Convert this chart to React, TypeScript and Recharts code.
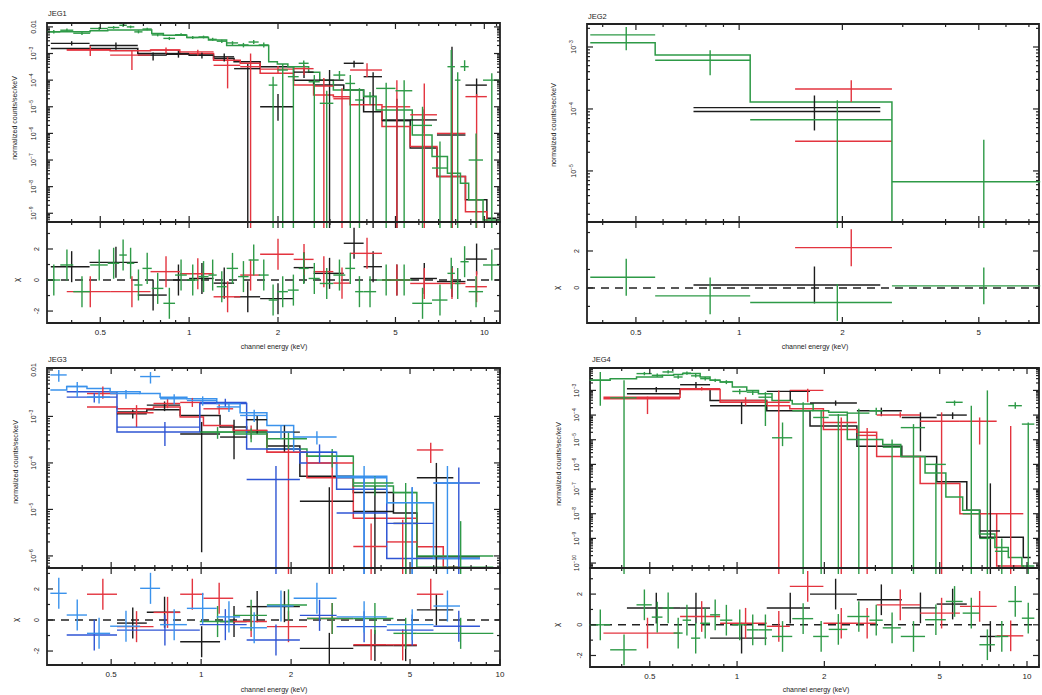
import React from 'react';
import {
  ComposedChart,
  Line,
  Scatter,
  ErrorBar,
  XAxis,
  YAxis,
  ReferenceLine,
  ReferenceArea,
} from 'recharts';

// one spectral bin: [E low, E high, rate, rate low, rate high, model, chi]
// rate low of 0 means the error bar runs down to zero; rate null = model only
type Bin = [number, number, number | null, number, number, number, number];

const JEG1_BLACK: Bin[] = [
  [0.34, 0.46, 2.4e-3, 2.0e-3, 2.9e-3, 1.55e-3, 0.86],
  [0.46, 0.67, 2.0e-3, 1.4e-3, 2.6e-3, 1.55e-3, 1.14],
  [0.67, 0.84, 8.7e-4, 5.5e-4, 1.1e-3, 1.0e-3, -0.97],
  [0.84, 1.0, 1.0e-3, 7.0e-4, 1.3e-3, 9.3e-4, 0.0],
  [1.0, 1.21, 8.7e-4, 6.5e-4, 1.1e-3, 8.7e-4, 0.1],
  [1.21, 1.42, 7.5e-4, 5.0e-4, 1.0e-3, 6.5e-4, -0.2],
  [1.42, 1.74, 2.7e-4, 0, 4.0e-4, 4.9e-4, -1.08],
  [1.74, 2.26, 1.0e-5, 3.0e-6, 3.0e-5, 3.2e-4, -1.2],
  [2.26, 2.64, 2.0e-4, 1.2e-4, 2.6e-4, 1.0e-4, 0.8],
  [2.64, 3.34, 1.0e-4, 0, 2.4e-4, 6.5e-5, 0.43],
  [3.34, 3.9, 4.3e-4, 3.0e-4, 5.3e-4, 4.3e-5, 2.37],
  [3.9, 4.5, 1.35e-4, 0, 2.0e-4, 6.5e-6, 0.86],
  [4.5, 5.61, 3.0e-6, 0, 2.0e-5, 3.2e-6, 0.0],
  [5.61, 6.91, 3.2e-6, 1.0e-6, 8.0e-6, 2.8e-7, 0.1],
  [6.91, 8.63, 8.7e-7, 0, 1.8e-3, 2.4e-8, -0.1],
  [8.63, 10.2, 6.5e-5, 2.4e-5, 1.15e-4, 3.2e-9, 1.35],
  [10.2, 11.0, null, 0, 0, 6.5e-10, 0],
];

const JEG1_RED: Bin[] = [
  [0.385, 0.54, 1.35e-3, 8.0e-4, 1.9e-3, 1.4e-3, -0.75],
  [0.54, 0.74, 8.7e-4, 2.4e-4, 1.35e-3, 1.26e-3, -0.75],
  [0.74, 0.93, 1.35e-3, 1.0e-3, 1.7e-3, 1.35e-3, 0.54],
  [0.93, 1.21, 1.15e-3, 8.5e-4, 1.4e-3, 1.0e-3, 0.4],
  [1.21, 1.49, 3.6e-4, 4.9e-5, 7.5e-4, 5.6e-4, -1.08],
  [1.49, 1.74, 3.2e-4, 0, 1.0e-3, 4.3e-4, 0.32],
  [1.74, 2.26, 2.6e-4, 1.8e-4, 3.4e-4, 1.8e-4, 1.66],
  [2.26, 2.64, 2.7e-4, 1.55e-4, 3.6e-4, 6.5e-5, 1.33],
  [2.64, 3.08, 6.0e-5, 0, 1.2e-4, 2.75e-5, 0.54],
  [3.08, 3.51, 2.0e-5, 0, 5.0e-5, 2.4e-5, -0.2],
  [3.51, 4.5, 2.4e-4, 1.3e-4, 4.3e-4, 1.2e-5, 1.72],
  [4.5, 5.61, 1.0e-5, 0, 1.0e-4, 1.8e-6, 0.0],
  [5.61, 6.91, 5.0e-6, 0, 7.5e-5, 3.2e-7, -0.22],
  [6.91, 8.63, 1.0e-6, 0, 4.3e-5, 2.4e-8, -0.22],
  [8.63, 10.2, 2.4e-5, 0, 3.0e-5, 1.15e-9, -0.43],
  [10.2, 11.0, null, 0, 0, 4.7e-10, 0],
];

const JEG1_GREEN: Bin[] = [
  [0.33, 0.366, 6.5e-3, 5.6e-3, 7.6e-3, 6.5e-3, 0.0],
  [0.366, 0.405, 7.5e-3, 6.5e-3, 8.7e-3, 6.5e-3, 0.97],
  [0.405, 0.462, 5.8e-3, 5.0e-3, 6.7e-3, 6.5e-3, -0.75],
  [0.462, 0.53, 8.7e-3, 7.7e-3, 9.8e-3, 7.1e-3, 0.97],
  [0.53, 0.58, 9.5e-3, 8.5e-3, 1.07e-2, 7.6e-3, 1.08],
  [0.58, 0.615, 1.15e-2, 1.0e-2, 1.3e-2, 7.6e-3, 1.61],
  [0.615, 0.652, 1.0e-2, 8.9e-3, 1.12e-2, 7.6e-3, 1.08],
  [0.652, 0.695, 6.5e-3, 5.7e-3, 7.4e-3, 7.6e-3, -0.32],
  [0.695, 0.747, 8.3e-3, 7.4e-3, 9.3e-3, 7.6e-3, 0.75],
  [0.747, 0.818, 5.0e-3, 4.4e-3, 5.7e-3, 5.6e-3, -0.54],
  [0.818, 0.896, 3.7e-3, 3.2e-3, 4.2e-3, 4.9e-3, -1.5],
  [0.896, 0.982, 5.1e-3, 4.5e-3, 5.8e-3, 4.9e-3, 0.32],
  [0.982, 1.075, 4.0e-3, 3.5e-3, 4.5e-3, 4.0e-3, 0.0],
  [1.075, 1.163, 4.2e-3, 3.7e-3, 4.7e-3, 4.0e-3, 0.22],
  [1.163, 1.24, 3.4e-3, 3.0e-3, 3.9e-3, 3.2e-3, 0.32],
  [1.24, 1.34, 2.9e-3, 2.5e-3, 3.3e-3, 3.2e-3, -0.43],
  [1.34, 1.465, 2.5e-3, 2.1e-3, 2.9e-3, 2.0e-3, 0.75],
  [1.465, 1.59, 2.1e-3, 1.7e-3, 2.5e-3, 2.0e-3, 0.22],
  [1.59, 1.72, 2.7e-3, 2.3e-3, 3.2e-3, 2.0e-3, 1.29],
  [1.72, 1.86, 2.1e-3, 1.7e-3, 2.6e-3, 2.0e-3, 0.32],
  [1.86, 1.99, 6.5e-5, 0, 1.35e-4, 4.9e-4, -1.29],
  [1.99, 2.16, 2.4e-4, 0, 4.0e-4, 4.0e-4, -0.75],
  [2.16, 2.35, 1.35e-4, 0, 3.2e-4, 3.2e-4, -0.65],
  [2.35, 2.54, 4.3e-4, 3.2e-4, 5.5e-4, 3.2e-4, 0.75],
  [2.54, 2.77, 8.7e-5, 0, 1.55e-4, 2.0e-4, 0.1],
  [2.77, 3.08, 1.35e-5, 0, 4.0e-5, 1.0e-4, -0.22],
  [3.08, 3.38, 1.55e-4, 1.0e-4, 2.2e-4, 4.3e-5, 0.32],
  [3.38, 3.65, 7.5e-5, 0, 1.55e-4, 4.3e-5, 0.75],
  [3.65, 3.9, 1.8e-5, 0, 5.0e-5, 4.3e-5, -0.75],
  [3.9, 4.3, 2.4e-5, 1.2e-5, 3.6e-5, 2.5e-5, -0.75],
  [4.3, 5.0, 4.9e-5, 0, 8.0e-5, 7.6e-6, 0.0],
  [5.0, 5.7, 4.0e-5, 0, 1.0e-4, 7.6e-6, 0.0],
  [5.7, 6.65, 2.0e-6, 0, 1.0e-5, 8.7e-7, -1.5],
  [6.65, 7.5, 5.0e-8, 0, 5.0e-7, 1.35e-7, -1.29],
  [7.5, 7.95, 3.2e-4, 0, 1.35e-3, 3.2e-8, 0.43],
  [7.95, 8.3, 1.0e-4, 0, 2.0e-4, 3.2e-8, -0.22],
  [8.3, 8.85, 3.2e-4, 2.2e-4, 5.6e-4, 1.35e-8, 1.18],
  [8.85, 9.9, 1.0e-7, 0, 1.0e-6, 3.2e-9, -0.75],
  [9.9, 11.3, 1.0e-4, 0, 1.8e-4, 5.6e-10, 0.97],
];

const JEG2_BLACK: Bin[] = [[0.736, 2.58, 1.05e-4, 4.5e-5, 1.65e-4, 9.1e-5, 0.16]];

const JEG2_RED: Bin[] = [[1.456, 2.79, 2.1e-4, 1.29e-4, 2.9e-4, 3.0e-5, 2.18]];

const JEG2_GREEN: Bin[] = [
  [0.368, 0.569, 1.57e-3, 8.9e-4, 2.1e-3, 1.17e-3, 0.58],
  [0.569, 1.077, 6.1e-4, 3.5e-4, 8.9e-4, 7.4e-4, -0.43],
  [1.077, 2.79, 6.7e-5, 0, 1.38e-4, 1.29e-4, -0.79],
  [2.79, 7.55, 6.7e-6, 0, 3.2e-5, 1.48e-6, 0.11],
];

const JEG3_BLACK: Bin[] = [
  [0.523, 0.658, 1.14e-3, 9.0e-4, 1.4e-3, 1.24e-3, -0.2],
  [0.658, 0.851, 1.75e-3, 1.3e-3, 2.1e-3, 1.4e-3, 0.5],
  [0.851, 1.157, 4.2e-4, 1.2e-6, 7.6e-4, 1.05e-3, -1.4],
  [1.157, 1.42, 3.6e-4, 1.2e-4, 8.5e-4, 5.9e-4, -0.1],
  [1.42, 1.66, 8.5e-4, 4.2e-4, 1.05e-3, 4.6e-4, 0.86],
  [1.66, 2.14, 4.6e-4, 1.7e-4, 6.4e-4, 2.3e-4, 0.86],
  [2.14, 3.23, 1.5e-5, 0, 3.0e-5, 5.2e-5, -1.83],
  [3.23, 4.4, 9.0e-6, 0, 3.2e-5, 2.3e-5, -1.65],
  [4.4, 5.27, 5.0e-6, 0, 1.4e-5, 8.4e-6, -1.65],
  [5.27, 6.98, 4.8e-5, 0, 1.0e-4, 9.6e-7, 0.65],
  [6.98, 8.57, null, 0, 0, 9.6e-7, 0],
];

const JEG3_RED: Bin[] = [
  [0.415, 0.523, 3.1e-3, 2.4e-3, 4.4e-3, 1.6e-3, 1.66],
  [0.523, 0.693, 1.2e-3, 5.9e-4, 1.75e-3, 1.46e-3, -0.43],
  [0.693, 0.851, 1.9e-3, 1.5e-3, 2.4e-3, 1.6e-3, 0.49],
  [0.851, 1.018, 2.0e-3, 1.6e-3, 2.5e-3, 9.7e-4, 1.66],
  [1.018, 1.28, 1.46e-3, 1.1e-3, 1.8e-3, 6.4e-4, 1.4],
  [1.28, 1.66, 5.0e-4, 3.3e-4, 6.4e-4, 5.0e-4, -0.1],
  [1.66, 2.26, 1.7e-4, 0, 2.3e-4, 1.7e-4, -0.43],
  [2.26, 3.23, 1.0e-4, 0, 1.7e-4, 4.8e-5, 0.1],
  [3.23, 4.18, 1.6e-6, 0, 5.0e-6, 6.5e-6, -1.6],
  [4.18, 5.27, 2.0e-6, 0, 6.0e-6, 6.5e-6, -1.6],
  [5.27, 6.46, 1.9e-4, 1.0e-4, 2.7e-4, 1.58e-6, 1.66],
  [6.46, 7.35, null, 0, 0, 5.7e-7, 0],
];

const JEG3_GREEN: Bin[] = [
  [0.99, 1.28, 4.6e-4, 3.3e-4, 5.9e-4, 4.6e-4, -0.1],
  [1.28, 1.66, 4.2e-4, 2.8e-4, 5.5e-4, 4.6e-4, 0.3],
  [1.66, 2.26, 3.3e-4, 2.0e-4, 4.6e-4, 2.0e-4, 0.97],
  [2.26, 3.23, 1.4e-4, 8.0e-5, 2.0e-4, 1.4e-4, 0.1],
  [3.23, 4.4, 3.7e-5, 2.0e-5, 5.2e-5, 3.2e-5, 0.1],
  [4.4, 5.27, 2.3e-5, 0, 3.7e-5, 2.3e-5, -0.86],
  [5.27, 9.5, 1.0e-6, 0, 5.6e-6, 5.7e-7, -0.86],
];

const JEG3_NAVY: Bin[] = [
  [0.355, 0.523, 2.6e-3, 2.0e-3, 3.2e-3, 3.4e-3, -0.97],
  [0.523, 0.99, 5.9e-4, 2.3e-4, 7.6e-4, 4.6e-4, -0.65],
  [0.99, 1.42, 2.0e-3, 1.6e-3, 2.4e-3, 1.9e-3, -0.3],
  [1.42, 2.14, 4.4e-5, 0, 8.6e-5, 2.0e-4, -1.29],
  [2.14, 2.84, 1.7e-4, 1.0e-4, 2.5e-4, 1.0e-4, 0.3],
  [2.84, 4.18, 8.4e-6, 0, 5.2e-5, 2.7e-5, -0.43],
  [4.18, 5.99, 5.0e-6, 0, 3.0e-5, 8.8e-7, -0.65],
  [5.99, 8.57, 3.7e-5, 0, 8.0e-5, 8.8e-7, -0.4],
];

const JEG3_BLUE: Bin[] = [
  [0.313, 0.355, 7.8e-3, 5.6e-3, 1.0e-2, 3.7e-3, 1.72],
  [0.355, 0.415, 4.4e-3, 2.6e-3, 5.5e-3, 4.4e-3, 0.32],
  [0.415, 0.496, 2.6e-3, 1.9e-3, 3.4e-3, 4.0e-3, -0.86],
  [0.496, 0.625, 3.1e-3, 2.4e-3, 3.7e-3, 3.4e-3, -0.4],
  [0.625, 0.729, 7.2e-3, 5.1e-3, 9.0e-3, 3.1e-3, 2.04],
  [0.729, 0.896, 2.4e-3, 1.8e-3, 3.0e-3, 2.6e-3, -0.3],
  [0.896, 1.128, 2.2e-3, 1.7e-3, 2.7e-3, 2.4e-3, 0.75],
  [1.128, 1.35, 1.6e-3, 1.24e-3, 1.9e-3, 1.9e-3, 0.2],
  [1.35, 1.66, 1.05e-3, 7.6e-4, 1.4e-3, 1.2e-3, -0.5],
  [1.66, 2.04, 4.6e-4, 3.3e-4, 6.4e-4, 6.4e-4, 0.9],
  [2.04, 2.84, 3.6e-4, 2.5e-4, 4.8e-4, 1.7e-4, 1.4],
  [2.84, 4.18, 4.8e-5, 0, 8.6e-5, 5.2e-5, 0.2],
  [4.18, 5.99, 1.4e-5, 0, 3.0e-5, 1.4e-5, -0.3],
  [5.99, 7.35, 3.7e-5, 0, 8.6e-5, 8.8e-7, 0.9],
  [7.35, 8.57, null, 0, 0, 8.8e-7, 0],
];

const JEG4_BLACK: Bin[] = [
  [0.417, 0.636, 1.17e-3, 8.5e-4, 1.37e-3, 7.3e-4, 1.09],
  [0.636, 0.807, 1.7e-3, 1.17e-3, 2.2e-3, 1.17e-3, 1.09],
  [0.807, 1.266, 2.4e-4, 4.3e-5, 3.3e-4, 3.9e-4, -0.87],
  [1.266, 1.785, 9.1e-4, 3.9e-4, 1.0e-3, 1.5e-4, 1.09],
  [1.785, 2.59, 3.1e-4, 2.4e-4, 3.9e-4, 3.6e-5, 2.0],
  [2.59, 3.7, 1.5e-4, 9.0e-5, 2.0e-4, 5.5e-6, 1.63],
  [3.7, 4.88, 8.0e-5, 3.4e-6, 1.29e-4, 2.1e-6, 1.1],
  [4.88, 6.2, 1.0e-4, 6.9e-5, 1.29e-4, 2.0e-7, 1.35],
  [6.2, 6.88, null, 0, 0, 1.37e-8, 0],
  [6.88, 8.07, 2.0e-9, 0, 1.7e-7, 1.1e-9, -0.76],
  [8.07, 9.71, null, 0, 0, 1.1e-9, 0],
  [9.71, 10.3, null, 0, 0, 1.66e-10, 0],
];

const JEG4_RED: Bin[] = [
  [0.346, 0.636, 4.6e-4, 1.1e-4, 5.6e-4, 5.3e-4, -0.54],
  [0.636, 0.874, 1.17e-3, 1.0e-3, 1.37e-3, 1.1e-3, 0.54],
  [0.874, 1.266, 3.9e-4, 2.4e-4, 5.3e-4, 3.3e-4, 0.1],
  [1.266, 1.52, 3.3e-4, 0, 1.0e-3, 2.4e-4, -0.1],
  [1.52, 1.985, 1.0e-3, 3.3e-4, 1.17e-3, 1.8e-4, 2.5],
  [1.985, 2.59, 5.0e-5, 0, 8.0e-5, 2.6e-5, 0.1],
  [2.59, 3.03, 1.5e-5, 0, 3.0e-5, 2.0e-5, 0.1],
  [3.03, 4.28, 1.0e-4, 8.0e-5, 1.29e-4, 2.1e-6, 1.3],
  [4.28, 5.87, 5.6e-5, 0, 1.29e-4, 1.7e-7, 0.76],
  [5.87, 7.86, 5.6e-5, 6.4e-6, 8.0e-5, 1.0e-8, 1.2],
  [7.86, 9.71, 1.0e-8, 0, 3.6e-5, 7.6e-11, -0.72],
  [9.71, 11.1, null, 0, 0, 6.4e-11, 0],
];

const JEG4_GREEN: Bin[] = [
  [0.31, 0.365, 2.6e-3, 2.4e-4, 5.6e-3, 2.6e-3, 0.0],
  [0.365, 0.45, 5.0e-4, 0, 2.6e-3, 3.0e-3, -1.63],
  [0.45, 0.508, 4.8e-3, 4.1e-3, 5.6e-3, 3.5e-3, 1.3],
  [0.508, 0.553, 4.1e-3, 3.5e-3, 4.8e-3, 3.5e-3, 0.5],
  [0.553, 0.604, 5.6e-3, 4.8e-3, 6.6e-3, 4.1e-3, 1.1],
  [0.604, 0.649, 3.5e-3, 3.0e-3, 4.1e-3, 4.4e-3, -0.54],
  [0.649, 0.694, 5.0e-3, 4.3e-3, 5.8e-3, 4.8e-3, 0.3],
  [0.694, 0.746, 3.9e-3, 3.3e-3, 4.6e-3, 4.8e-3, -0.87],
  [0.746, 0.807, 3.0e-3, 2.5e-3, 3.5e-3, 3.5e-3, 0.1],
  [0.807, 0.874, 2.6e-3, 2.2e-3, 3.0e-3, 2.6e-3, 0.65],
  [0.874, 0.963, 2.2e-3, 1.8e-3, 2.6e-3, 2.2e-3, 0.3],
  [0.963, 1.08, 9.1e-4, 7.0e-4, 1.15e-3, 1.37e-3, 0.0],
  [1.08, 1.185, 8.5e-4, 6.5e-4, 1.05e-3, 1.0e-3, -0.33],
  [1.185, 1.32, 5.3e-4, 3.6e-5, 8.5e-4, 7.3e-4, -0.33],
  [1.32, 1.55, 1.2e-5, 5.5e-6, 5.0e-5, 3.9e-4, -0.76],
  [1.55, 1.83, 1.5e-4, 0, 3.3e-4, 2.8e-4, 0.4],
  [1.83, 2.07, 8.0e-5, 0, 1.6e-4, 1.5e-4, -0.76],
  [2.07, 2.4, 1.0e-4, 0, 1.1e-4, 1.29e-4, -0.3],
  [2.4, 2.86, 1.2e-4, 0, 1.8e-4, 1.03e-5, 0.54],
  [2.86, 3.18, 1.5e-4, 1.0e-4, 2.0e-4, 1.03e-5, 0.3],
  [3.18, 3.67, 5.0e-6, 0, 1.03e-5, 6.4e-6, -0.2],
  [3.67, 4.45, 3.1e-5, 0, 4.3e-5, 2.1e-6, -0.76],
  [4.45, 5.25, 1.0e-6, 0, 1.1e-6, 4.5e-7, 0.33],
  [5.25, 6.0, 3.3e-4, 2.4e-4, 3.9e-4, 4.8e-8, 1.52],
  [6.0, 6.85, 1.0e-8, 0, 2.4e-4, 1.37e-8, 0.76],
  [6.85, 7.75, 1.0e-9, 0, 1.0e-3, 1.5e-9, -1.3],
  [7.75, 8.62, 3.0e-10, 0, 1.0e-9, 4.3e-10, -0.76],
  [8.62, 9.6, 2.4e-4, 1.8e-4, 3.3e-4, 1.66e-10, 1.52],
  [9.6, 10.6, 4.3e-5, 0, 5.0e-5, 7.6e-11, 0.43],
];

const X_MAJOR = [0.5, 1, 2, 5, 10];
const X_MINOR = [0.3, 0.4, 0.6, 0.7, 0.8, 0.9, 3, 4, 6, 7, 8, 9, 11, 12];
const CHI_MAJOR = [-2, 0, 2];
const CHI_MINOR = [-3, -1, 1, 3];

const INK = '#222';
const FONT = '"Liberation Sans", Arial, Helvetica, sans-serif';
const C_BLACK = '#1c1c1c';
const C_RED = '#e3343f';
const C_GREEN = '#2e9a47';
const C_BLUE = '#3a92ec';
const C_NAVY = '#2f55d4';

interface Series {
  rows: Bin[];
  color: string;
}

interface PanelDef {
  title: string;
  left: number;
  right: number;
  top: number;
  mid: number;
  bottom: number;
  xDomain: [number, number];
  yDomain: [number, number];
  decades: number[];
  chiDomain: [number, number];
  series: Series[];
  titleAt: [number, number];
  yTitleAt: [number, number];
  chiAt: [number, number];
  xTitleAt: [number, number];
}

const PANELS: PanelDef[] = [
  {
    title: 'JEG1',
    left: 47, right: 500, top: 23, mid: 222, bottom: 323,
    xDomain: [0.33, 11.3],
    yDomain: [4.7e-10, 1.4e-2],
    decades: [-2, -3, -4, -5, -6, -7, -8, -9],
    chiDomain: [-2.77, 3.74],
    series: [
      { rows: JEG1_BLACK, color: C_BLACK },
      { rows: JEG1_RED, color: C_RED },
      { rows: JEG1_GREEN, color: C_GREEN },
    ],
    titleAt: [48, 16], yTitleAt: [17, 118], chiAt: [19, 280], xTitleAt: [274, 349],
  },
  {
    title: 'JEG2',
    left: 587, right: 1039, top: 24, mid: 222, bottom: 323,
    xDomain: [0.36, 7.49],
    yDomain: [1.5e-6, 2.35e-3],
    decades: [-3, -4, -5],
    chiDomain: [-1.9, 3.57],
    series: [
      { rows: JEG2_BLACK, color: C_BLACK },
      { rows: JEG2_RED, color: C_RED },
      { rows: JEG2_GREEN, color: C_GREEN },
    ],
    titleAt: [588, 19], yTitleAt: [556, 125], chiAt: [559, 288], xTitleAt: [815, 349],
  },
  {
    title: 'JEG3',
    left: 47, right: 500, top: 368, mid: 568, bottom: 665,
    xDomain: [0.305, 10],
    yDomain: [5.5e-7, 1.1e-2],
    decades: [-2, -3, -4, -5, -6],
    chiDomain: [-2.9, 3.35],
    series: [
      { rows: JEG3_BLACK, color: C_BLACK },
      { rows: JEG3_RED, color: C_RED },
      { rows: JEG3_GREEN, color: C_GREEN },
      { rows: JEG3_NAVY, color: C_NAVY },
      { rows: JEG3_BLUE, color: C_BLUE },
    ],
    titleAt: [48, 362], yTitleAt: [18, 462], chiAt: [18, 620], xTitleAt: [274, 692],
  },
  {
    title: 'JEG4',
    left: 590, right: 1039, top: 368, mid: 568, bottom: 667,
    xDomain: [0.311, 11.0],
    yDomain: [6.3e-11, 8.1e-3],
    decades: [-3, -4, -5, -6, -7, -8, -9, -10],
    chiDomain: [-2.75, 3.7],
    series: [
      { rows: JEG4_BLACK, color: C_BLACK },
      { rows: JEG4_RED, color: C_RED },
      { rows: JEG4_GREEN, color: C_GREEN },
    ],
    titleAt: [592, 362], yTitleAt: [561, 464], chiAt: [559, 625], xTitleAt: [816, 692],
  },
];

// chart frame: y-axis strip, top and right margins, x-axis strip heights
const YW = 44;
const MT = 6;
const MR = 6;
const XH_TOP = 6;
const XH_RES = 26;

const Blank = () => <g />;

const isDecade = (v: number) => {
  const lg = Math.log10(v);
  return Math.abs(lg - Math.round(lg)) < 1e-6;
};

// data crosses: x at bin middle, bars over the bin and the rate range
const spectrumPoints = (rows: Bin[], floor: number) =>
  rows
    .filter((r) => r[2] !== null)
    .map(([lo, hi, rate, rLo, rHi]) => {
      const x = (lo + hi) / 2;
      const y = rate as number;
      const bottom = rLo > 0 ? rLo : floor;
      return { x, y, xe: [x - lo, hi - x], ye: [y - bottom, rHi - y] };
    });

const residualPoints = (rows: Bin[]) =>
  rows
    .filter((r) => r[2] !== null)
    .map(([lo, hi, , , , , chi]) => {
      const x = (lo + hi) / 2;
      return { x, y: chi, xe: [x - lo, hi - x], ye: 1 };
    });

// folded model as a histogram over the same bins
const modelSteps = (rows: Bin[]) => [
  ...rows.map((r) => ({ x: r[0], y: r[5] })),
  { x: rows[rows.length - 1][1], y: rows[rows.length - 1][5] },
];

const Panel: React.FC<{ p: PanelDef }> = ({ p }) => {
  const plotW = p.right - p.left;
  const topH = p.mid - p.top;
  const resH = p.bottom - p.mid;
  const chartW = YW + plotW + MR;
  const floor = p.yDomain[0] / 10;

  const xTicks = [...X_MAJOR, ...X_MINOR]
    .filter((v) => v >= p.xDomain[0] && v <= p.xDomain[1])
    .sort((a, b) => a - b);

  const yTicks: number[] = [];
  for (let e = -12; e <= 0; e++) {
    for (let m = 1; m <= 9; m++) {
      const v = m * Math.pow(10, e);
      if (v >= p.yDomain[0] && v <= p.yDomain[1]) yTicks.push(v);
    }
  }

  const chiTicks = [...CHI_MAJOR, ...CHI_MINOR]
    .filter((v) => v >= p.chiDomain[0] && v <= p.chiDomain[1])
    .sort((a, b) => a - b);

  const xTick = (h: number, labels: boolean) => (props: any) => {
    const { x, payload } = props;
    const major = X_MAJOR.includes(payload.value);
    const len = major ? 6 : 3;
    const yb = MT + h;
    return (
      <g>
        <line x1={x} x2={x} y1={yb} y2={yb - len} stroke={INK} strokeWidth={1.2} />
        <line x1={x} x2={x} y1={MT} y2={MT + len} stroke={INK} strokeWidth={1.2} />
        {labels && major && (
          <text x={x} y={yb + 12} textAnchor="middle" fontSize={8} fill={INK} fontFamily={FONT}>
            {String(payload.value)}
          </text>
        )}
      </g>
    );
  };

  const yTickSpectrum = (props: any) => {
    const { y, payload } = props;
    const v = payload.value as number;
    const major = isDecade(v);
    const exp = Math.round(Math.log10(v));
    const len = major ? 6 : 3;
    const xr = YW + plotW;
    const lx = YW - 11;
    return (
      <g>
        <line x1={YW} x2={YW + len} y1={y} y2={y} stroke={INK} strokeWidth={1.2} />
        <line x1={xr} x2={xr - len} y1={y} y2={y} stroke={INK} strokeWidth={1.2} />
        {major && p.decades.includes(exp) && (
          <text
            transform={`translate(${lx},${y}) rotate(-90)`}
            textAnchor="middle"
            fontSize={7}
            fill={INK}
            fontFamily={FONT}
          >
            {exp === -2 ? (
              '0.01'
            ) : (
              <>
                10
                <tspan dy={-3} fontSize={5}>{`\u2212${-exp}`}</tspan>
              </>
            )}
          </text>
        )}
      </g>
    );
  };

  const yTickChi = (props: any) => {
    const { y, payload } = props;
    const v = payload.value as number;
    const major = CHI_MAJOR.includes(v);
    const len = major ? 6 : 3;
    const xr = YW + plotW;
    const lx = YW - 8;
    return (
      <g>
        <line x1={YW} x2={YW + len} y1={y} y2={y} stroke={INK} strokeWidth={1.2} />
        <line x1={xr} x2={xr - len} y1={y} y2={y} stroke={INK} strokeWidth={1.2} />
        {major && (
          <text
            transform={`translate(${lx},${y}) rotate(-90)`}
            textAnchor="middle"
            fontSize={7}
            fill={INK}
            fontFamily={FONT}
          >
            {v < 0 ? `-${-v}` : String(v)}
          </text>
        )}
      </g>
    );
  };

  return (
    <>
      <div style={{ position: 'absolute', left: p.left - YW, top: p.top - MT }}>
        <ComposedChart
          width={chartW}
          height={MT + topH + XH_TOP}
          margin={{ top: MT, right: MR, bottom: 0, left: 0 }}
        >
          <XAxis
            dataKey="x"
            type="number"
            scale="log"
            domain={p.xDomain}
            allowDataOverflow
            ticks={xTicks}
            interval={0}
            tickSize={0}
            tickMargin={0}
            axisLine={false}
            height={XH_TOP}
            tick={xTick(topH, false)}
          />
          <YAxis
            dataKey="y"
            type="number"
            scale="log"
            domain={p.yDomain}
            allowDataOverflow
            ticks={yTicks}
            interval={0}
            tickSize={0}
            tickMargin={0}
            axisLine={false}
            width={YW}
            tick={yTickSpectrum}
          />
          {p.series.map((s, i) => (
            <Line
              key={`m${i}`}
              data={modelSteps(s.rows)}
              dataKey="y"
              type="stepAfter"
              stroke={s.color}
              strokeWidth={1.5}
              dot={false}
              activeDot={false}
              isAnimationActive={false}
            />
          ))}
          {p.series.map((s, i) => (
            <Scatter
              key={`d${i}`}
              data={spectrumPoints(s.rows, floor)}
              dataKey="y"
              shape={Blank}
              isAnimationActive={false}
            >
              <ErrorBar dataKey="xe" direction="x" width={0} stroke={s.color} strokeWidth={1.4} />
              <ErrorBar dataKey="ye" direction="y" width={0} stroke={s.color} strokeWidth={1.4} />
            </Scatter>
          ))}
          <ReferenceArea
            x1={p.xDomain[0]}
            x2={p.xDomain[1]}
            y1={p.yDomain[0]}
            y2={p.yDomain[1]}
            fill="none"
            stroke={INK}
            strokeWidth={1.8}
            ifOverflow="visible"
          />
        </ComposedChart>
      </div>

      <div style={{ position: 'absolute', left: p.left - YW, top: p.mid - MT }}>
        <ComposedChart
          width={chartW}
          height={MT + resH + XH_RES}
          margin={{ top: MT, right: MR, bottom: 0, left: 0 }}
        >
          <XAxis
            dataKey="x"
            type="number"
            scale="log"
            domain={p.xDomain}
            allowDataOverflow
            ticks={xTicks}
            interval={0}
            tickSize={0}
            tickMargin={0}
            axisLine={false}
            height={XH_RES}
            tick={xTick(resH, true)}
          />
          <YAxis
            dataKey="y"
            type="number"
            domain={p.chiDomain}
            allowDataOverflow
            ticks={chiTicks}
            interval={0}
            tickSize={0}
            tickMargin={0}
            axisLine={false}
            width={YW}
            tick={yTickChi}
          />
          <ReferenceLine y={0} stroke={INK} strokeWidth={1.5} strokeDasharray="8 6" />
          {p.series.map((s, i) => (
            <Scatter
              key={`r${i}`}
              data={residualPoints(s.rows)}
              dataKey="y"
              shape={Blank}
              isAnimationActive={false}
            >
              <ErrorBar dataKey="xe" direction="x" width={0} stroke={s.color} strokeWidth={1.4} />
              <ErrorBar dataKey="ye" direction="y" width={0} stroke={s.color} strokeWidth={1.4} />
            </Scatter>
          ))}
          <ReferenceArea
            x1={p.xDomain[0]}
            x2={p.xDomain[1]}
            y1={p.chiDomain[0]}
            y2={p.chiDomain[1]}
            fill="none"
            stroke={INK}
            strokeWidth={1.8}
            ifOverflow="visible"
          />
        </ComposedChart>
      </div>
    </>
  );
};

const Captions: React.FC = () => (
  <svg
    width={1042}
    height={695}
    style={{ position: 'absolute', left: 0, top: 0, pointerEvents: 'none' }}
    fontFamily={FONT}
    fill={INK}
  >
    {PANELS.map((p) => (
      <g key={p.title}>
        <text x={p.titleAt[0]} y={p.titleAt[1]} fontSize={7.5}>
          {p.title}
        </text>
        <text
          transform={`translate(${p.yTitleAt[0]},${p.yTitleAt[1]}) rotate(-90)`}
          textAnchor="middle"
          fontSize={7}
        >
          normalized counts/sec/keV
        </text>
        <text
          transform={`translate(${p.chiAt[0]},${p.chiAt[1]}) rotate(-90)`}
          textAnchor="middle"
          fontSize={8}
        >
          χ
        </text>
        <text x={p.xTitleAt[0]} y={p.xTitleAt[1]} textAnchor="middle" fontSize={7}>
          channel energy (keV)
        </text>
      </g>
    ))}
  </svg>
);

export default function App() {
  return (
    <div
      style={{
        position: 'absolute',
        left: 0,
        top: 0,
        width: 1042,
        height: 695,
        overflow: 'hidden',
        background: '#fff',
      }}
    >
      {PANELS.map((p) => (
        <Panel key={p.title} p={p} />
      ))}
      <Captions />
    </div>
  );
}
